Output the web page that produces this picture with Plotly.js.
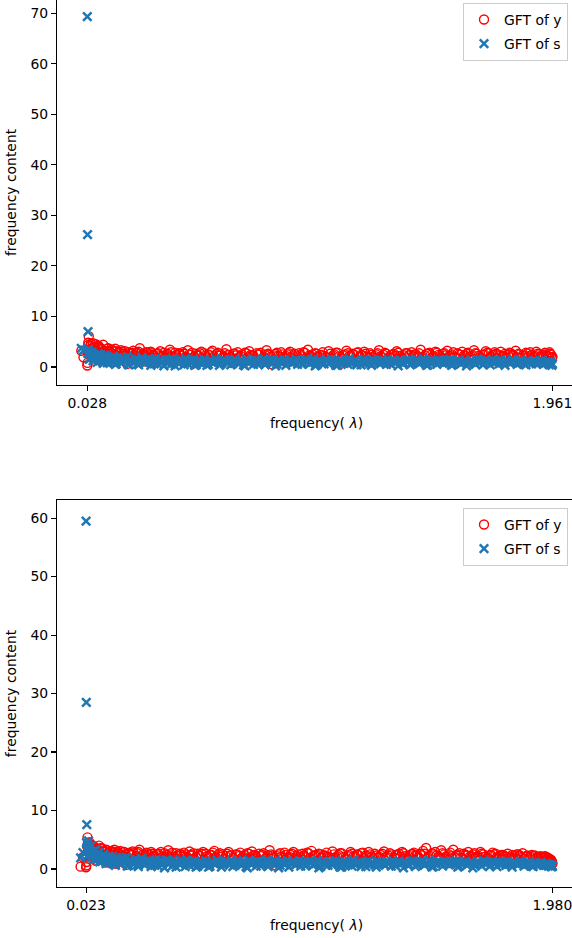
<!DOCTYPE html>
<html>
<head>
<meta charset="utf-8">
<script src="https://cdn.plot.ly/plotly-3.0.1.min.js"></script>
<style>
html,body{margin:0;padding:0;overflow:hidden;background:#fff;width:572px;height:938px;}
#chart{width:580px;height:938px;}
</style>
</head>
<body>
<div id="chart"></div>
<script>
// ================= top figure =================
const freqA1 = [
0.003,0.028,0.029,0.031,0.034,0.038,0.043,0.047,0.052,0.058,
0.063,0.069,0.074,0.081,0.087,0.094,0.101,0.107,0.115,0.122,
0.129,0.137,0.144,0.152,0.161,0.168,0.176,0.185,0.193,0.201,
0.211,0.219,0.228,0.236,0.246,0.255,0.264,0.273,0.283,0.292,
0.301,0.311,0.322,0.331,0.341,0.352,0.362,0.371,0.382,0.393,
0.403,0.414,0.425,0.436,0.446,0.457,0.469,0.480,0.491,0.502,
0.514,0.525,0.537,0.548,0.560,0.571,0.583,0.595,0.606,0.618,
0.630,0.641,0.653,0.666,0.677,0.689,0.701,0.713,0.725,0.737,
0.749,0.761,0.773,0.786,0.798,0.810,0.822,0.834,0.847,0.859,
0.871,0.883,0.896,0.908,0.920,0.932,0.945,0.957,0.969,0.981,
0.994,1.006,1.018,1.031,1.043,1.055,1.068,1.080,1.092,1.105,
1.117,1.129,1.142,1.154,1.166,1.179,1.191,1.203,1.216,1.228,
1.240,1.253,1.265,1.277,1.290,1.302,1.314,1.327,1.339,1.351,
1.364,1.376,1.388,1.401,1.413,1.425,1.438,1.450,1.462,1.475,
1.487,1.499,1.512,1.524,1.536,1.549,1.561,1.573,1.586,1.598,
1.610,1.623,1.635,1.647,1.660,1.672,1.684,1.697,1.709,1.721,
1.734,1.746,1.758,1.771,1.783,1.795,1.808,1.820,1.832,1.845,
1.857,1.869,1.882,1.894,1.906,1.918,1.930,1.941,1.951,1.961];
const freqA2 = [
0.012,0.030,0.032,0.036,0.040,0.045,0.050,0.055,0.060,0.066,
0.071,0.077,0.084,0.090,0.097,0.104,0.111,0.118,0.125,0.133,
0.140,0.148,0.156,0.164,0.172,0.180,0.189,0.197,0.206,0.215,
0.223,0.232,0.241,0.250,0.259,0.268,0.278,0.287,0.296,0.306,
0.316,0.326,0.336,0.346,0.357,0.366,0.376,0.387,0.398,0.408,
0.419,0.430,0.441,0.451,0.463,0.474,0.485,0.496,0.508,0.519,
0.531,0.542,0.554,0.565,0.577,0.589,0.600,0.612,0.624,0.635,
0.647,0.659,0.671,0.683,0.695,0.707,0.719,0.731,0.743,0.755,
0.767,0.779,0.792,0.804,0.816,0.828,0.840,0.853,0.865,0.877,
0.889,0.902,0.914,0.926,0.938,0.951,0.963,0.975,0.987,1.000,
1.012,1.024,1.037,1.049,1.061,1.074,1.086,1.098,1.111,1.123,
1.135,1.148,1.160,1.172,1.185,1.197,1.209,1.222,1.234,1.246,
1.259,1.271,1.283,1.296,1.308,1.320,1.333,1.345,1.357,1.370,
1.382,1.394,1.407,1.419,1.431,1.444,1.456,1.468,1.481,1.493,
1.505,1.518,1.530,1.542,1.555,1.567,1.579,1.592,1.604,1.616,
1.629,1.641,1.653,1.666,1.678,1.690,1.703,1.715,1.727,1.740,
1.752,1.764,1.777,1.789,1.801,1.814,1.826,1.838,1.851,1.863,
1.875,1.888,1.900,1.912,1.924,1.935,1.946,1.949,1.956,1.959];
const gftYA1 = [
3.2,0.3,0.8,4.3,6.1,3.5,4.6,2.1,4.7,3.9,
4.5,1.6,4.2,3.8,2.4,4.4,3.1,1.2,3.7,3.0,
3.4,2.2,3.6,1.0,2.9,3.3,2.0,3.1,0.6,2.7,
2.6,3.2,1.5,2.8,3.7,2.3,1.1,2.9,2.5,3.0,
2.4,0.9,2.7,3.1,2.2,1.7,2.6,3.4,2.1,2.8,
1.4,2.5,2.9,2.0,3.3,2.4,0.7,2.6,2.2,3.0,
2.7,1.9,2.3,3.2,1.2,2.8,2.5,2.1,3.5,2.4,
0.8,2.6,2.9,2.2,1.6,2.7,3.1,2.3,1.3,2.5,
2.8,2.0,3.3,2.4,0.5,2.6,2.2,2.9,1.8,2.5,
3.0,2.3,1.4,2.7,2.1,2.8,3.4,2.2,1.0,2.6,
2.4,2.9,2.0,3.1,1.7,2.5,2.8,0.6,2.3,3.2,
2.2,2.6,1.2,2.9,2.4,3.0,2.1,2.7,1.9,2.5,
3.3,2.0,2.8,0.9,2.4,2.6,3.1,2.2,1.5,2.7,
2.3,2.9,2.5,2.1,3.4,1.1,2.6,2.8,2.0,3.0,
2.4,1.6,2.7,3.2,2.2,2.9,0.7,2.5,3.0,2.3,
2.8,2.1,3.3,2.6,1.3,2.4,3.1,2.7,2.0,2.9,
2.5,3.0,2.2,1.8,2.8,2.4,3.2,2.6,0.9,2.3,
2.7,2.9,2.1,3.0,2.5,2.4,2.8,2.2,2.6,2.0];
const gftYA2 = [
1.9,3.0,4.8,2.6,4.1,3.4,2.8,4.0,3.3,2.5,
3.9,2.9,3.5,2.3,3.2,2.7,3.6,2.6,2.9,3.3,
2.5,3.1,2.8,2.2,3.0,2.6,2.4,2.9,2.1,2.8,
2.3,2.7,3.0,1.9,2.6,2.4,2.8,1.8,2.7,2.2,
2.6,2.3,2.0,2.8,2.5,2.1,2.9,1.7,2.4,2.7,
2.2,2.6,1.9,2.5,2.8,2.0,2.4,2.7,1.6,2.3,
2.5,2.9,2.1,2.6,2.2,1.8,2.7,2.4,2.0,2.6,
2.3,2.0,2.5,2.8,1.9,2.4,2.2,2.7,2.5,1.7,
2.4,2.6,2.1,2.3,2.8,2.0,2.5,2.2,2.7,1.9,
2.6,2.1,2.4,2.9,1.8,2.3,2.5,2.7,2.0,2.4,
2.2,1.9,2.6,2.3,2.8,2.1,1.7,2.5,2.7,2.2,
2.5,2.8,2.0,2.3,2.6,1.8,2.4,2.2,2.7,2.1,
2.4,2.6,1.9,2.5,2.2,2.8,2.0,2.3,2.7,2.4,
2.1,2.5,2.7,1.8,2.3,2.6,2.4,2.0,2.8,2.2,
2.6,2.3,2.1,2.5,1.9,2.7,2.4,2.2,2.6,2.0,
2.3,2.7,2.2,1.8,2.5,2.8,2.1,2.4,2.6,2.3,
2.0,2.6,2.4,2.7,2.2,1.9,2.5,2.3,2.8,2.1,
2.4,2.2,2.6,2.0,2.5,2.3,2.1,2.9,2.4,1.8];
const gftSA1 = [
3.7,69.3,26.2,7.0,2.6,3.0,1.8,2.9,1.2,2.4,
2.2,0.9,2.6,1.5,2.0,0.7,2.3,1.6,1.1,1.9,
1.4,2.1,0.5,1.8,1.2,0.8,1.7,1.3,2.0,0.4,
1.5,1.0,1.6,0.6,1.3,1.9,0.9,1.4,1.1,0.3,
1.2,1.7,0.5,1.4,1.0,1.5,0.7,1.3,1.6,0.2,
0.9,1.4,1.1,1.6,0.6,1.2,1.5,0.4,1.3,0.8,
1.5,0.3,1.2,0.9,1.6,1.0,0.6,1.4,1.1,1.3,
0.7,1.5,1.0,1.3,0.4,1.6,0.8,1.2,1.4,0.5,
1.1,1.6,0.9,1.3,1.5,0.2,1.2,0.7,1.4,1.0,
1.3,0.8,1.5,1.1,0.5,1.4,1.2,0.9,1.6,0.4,
1.2,1.0,1.4,0.6,1.5,1.3,0.3,1.1,0.8,1.4,
1.6,0.9,1.3,1.0,0.4,1.5,1.2,0.7,1.4,1.1,
0.8,1.3,1.1,1.5,0.5,1.4,1.0,1.2,0.6,1.3,
1.5,0.7,1.2,1.4,0.9,1.6,0.3,1.1,1.3,1.0,
1.4,1.2,0.8,1.3,1.5,0.5,1.1,1.4,0.9,1.2,
0.6,1.3,1.0,1.5,1.2,0.4,1.4,1.1,1.3,0.8,
1.2,1.4,0.7,1.3,1.0,1.5,0.9,1.1,1.4,0.5,
1.3,1.0,1.2,0.6,1.1,1.3,0.8,1.0,0.9,0.6];
const gftSA2 = [
3.3,2.7,3.5,1.5,2.8,2.1,2.5,1.4,2.2,1.7,
1.9,1.3,2.4,1.1,1.8,2.0,0.8,1.6,1.3,0.9,
1.7,0.6,1.5,1.2,0.9,1.6,1.1,0.5,1.4,1.2,
0.8,1.3,0.4,1.1,1.5,0.7,1.2,0.9,1.4,0.6,
1.0,1.3,0.8,0.2,1.1,1.4,0.5,0.9,1.2,0.7,
1.3,0.4,1.0,1.2,0.8,0.3,1.1,1.3,0.6,0.9,
0.5,1.1,0.8,1.2,0.3,1.0,1.3,0.7,0.4,1.2,
1.0,0.6,1.2,0.2,0.9,1.1,0.5,1.3,0.8,1.0,
0.4,1.2,0.7,1.0,0.6,1.3,0.9,0.3,1.1,0.7,
1.0,0.5,1.2,0.8,1.3,0.6,0.9,0.2,1.1,0.8,
0.6,1.3,0.9,1.1,0.3,0.8,1.2,1.0,0.5,0.7,
1.1,0.4,0.9,1.2,0.7,1.0,0.3,0.8,1.2,0.6,
1.0,0.5,0.8,1.2,0.9,0.2,1.1,0.7,1.0,0.4,
0.9,1.2,0.6,1.0,1.3,0.4,0.8,1.1,0.5,0.9,
0.7,1.0,1.2,0.3,0.9,1.1,0.6,1.0,0.2,0.8,
1.1,0.5,0.9,1.2,0.7,1.0,0.4,0.8,1.1,0.6,
0.9,0.3,1.0,0.7,1.2,0.5,0.8,1.0,0.4,0.9,
0.6,1.0,0.7,0.9,0.5,0.8,0.6,0.4,0.7,0.3];
const ticksA = [0.028, 1.961];
const tickTextA = ['0.028', '1.961'];
const yTicksA = [0,10,20,30,40,50,60,70];

// ================= bottom figure =================
const freqB1 = [
0.000,0.023,0.024,0.026,0.029,0.033,0.037,0.042,0.047,0.053,
0.058,0.064,0.070,0.077,0.083,0.090,0.097,0.104,0.111,0.119,
0.126,0.134,0.142,0.150,0.158,0.166,0.175,0.183,0.192,0.201,
0.210,0.219,0.228,0.238,0.247,0.257,0.266,0.276,0.286,0.296,
0.306,0.316,0.326,0.337,0.347,0.358,0.368,0.379,0.390,0.401,
0.412,0.423,0.434,0.445,0.457,0.468,0.479,0.491,0.502,0.514,
0.526,0.537,0.549,0.561,0.573,0.585,0.597,0.609,0.621,0.633,
0.645,0.657,0.670,0.682,0.694,0.706,0.719,0.731,0.743,0.756,
0.768,0.781,0.793,0.806,0.818,0.831,0.843,0.856,0.868,0.881,
0.893,0.906,0.918,0.931,0.944,0.956,0.969,0.981,0.994,1.007,
1.019,1.032,1.045,1.057,1.070,1.083,1.095,1.108,1.121,1.133,
1.146,1.159,1.171,1.184,1.197,1.209,1.222,1.235,1.247,1.260,
1.273,1.285,1.298,1.311,1.323,1.336,1.349,1.361,1.374,1.387,
1.399,1.412,1.425,1.437,1.450,1.463,1.475,1.488,1.501,1.513,
1.526,1.539,1.551,1.564,1.577,1.589,1.602,1.615,1.627,1.640,
1.653,1.665,1.678,1.691,1.703,1.716,1.729,1.741,1.754,1.767,
1.779,1.792,1.805,1.817,1.830,1.843,1.855,1.868,1.881,1.893,
1.906,1.918,1.931,1.943,1.953,1.960,1.966,1.971,1.976,1.980];
const freqB2 = [
0.010,0.025,0.027,0.031,0.035,0.039,0.044,0.050,0.055,0.061,
0.067,0.073,0.080,0.086,0.093,0.100,0.107,0.115,0.122,0.130,
0.138,0.146,0.154,0.162,0.170,0.179,0.187,0.196,0.205,0.214,
0.223,0.233,0.242,0.252,0.261,0.271,0.281,0.291,0.301,0.311,
0.321,0.331,0.342,0.352,0.363,0.373,0.384,0.395,0.406,0.417,
0.428,0.439,0.451,0.462,0.473,0.485,0.496,0.508,0.520,0.531,
0.543,0.555,0.567,0.579,0.591,0.603,0.615,0.627,0.639,0.651,
0.664,0.676,0.688,0.700,0.712,0.725,0.737,0.749,0.762,0.774,
0.787,0.799,0.812,0.824,0.837,0.849,0.862,0.874,0.887,0.899,
0.912,0.924,0.937,0.950,0.962,0.975,0.987,1.000,1.013,1.025,
1.038,1.051,1.063,1.076,1.089,1.101,1.114,1.127,1.139,1.152,
1.165,1.177,1.190,1.203,1.215,1.228,1.241,1.253,1.266,1.279,
1.291,1.304,1.317,1.329,1.342,1.355,1.367,1.380,1.393,1.405,
1.418,1.431,1.443,1.456,1.469,1.481,1.494,1.507,1.519,1.532,
1.545,1.557,1.570,1.583,1.595,1.608,1.621,1.633,1.646,1.659,
1.671,1.684,1.697,1.709,1.722,1.735,1.747,1.760,1.773,1.785,
1.798,1.811,1.823,1.836,1.849,1.861,1.874,1.887,1.899,1.912,
1.924,1.937,1.948,1.956,1.963,1.968,1.973,1.975,1.978,1.979];
const gftYB1 = [
0.4,0.3,0.6,2.4,5.4,3.1,4.6,2.2,4.1,3.6,
3.8,1.4,3.3,4.0,2.6,3.5,2.9,1.1,3.2,2.7,
3.0,2.4,3.3,0.9,2.8,3.1,2.2,2.9,0.7,2.6,
2.5,3.0,1.6,2.7,3.3,2.2,1.2,2.8,2.4,2.9,
2.3,1.0,2.6,2.9,2.1,1.8,3.2,2.5,2.0,2.7,
1.5,2.4,2.8,2.1,3.0,2.3,0.8,2.6,2.2,2.9,
2.6,2.0,2.4,3.1,1.3,2.7,2.5,2.2,2.9,2.3,
0.9,2.5,2.8,2.1,1.7,2.6,3.0,2.4,1.4,2.2,
2.7,2.0,3.2,2.3,0.6,2.5,2.1,2.8,1.9,2.4,
2.9,2.2,1.5,2.6,2.0,2.7,3.1,2.3,1.1,2.5,
2.3,2.8,2.0,3.0,1.8,2.4,2.7,0.7,2.2,2.9,
2.2,2.5,1.3,2.8,2.3,2.9,2.1,2.6,1.9,2.4,
3.0,2.1,2.7,1.0,2.4,2.6,2.9,2.2,1.6,2.5,
2.8,2.4,2.6,3.1,3.6,1.2,2.7,2.9,2.1,3.2,
2.5,1.7,2.8,3.3,2.3,2.7,0.8,2.4,2.9,2.2,
2.7,2.1,2.9,2.5,1.4,2.3,2.8,2.6,2.0,2.4,
2.2,2.6,2.0,1.8,2.5,2.3,2.7,2.1,0.9,2.4,
2.3,2.0,2.2,1.9,2.1,1.8,1.6,1.4,1.2,0.9];
const gftYB2 = [
2.0,1.2,3.9,4.4,3.0,4.2,3.5,2.7,3.8,3.1,
2.6,3.4,2.9,3.6,2.4,3.0,3.3,2.7,2.5,3.1,
2.8,2.2,3.0,2.6,2.3,2.9,2.5,2.1,2.8,2.4,
2.7,2.2,2.9,1.9,2.5,2.3,2.7,1.8,2.6,2.1,
2.5,2.2,2.0,2.7,2.4,2.0,2.8,1.7,2.3,2.6,
2.1,2.5,1.9,2.4,2.7,2.0,2.3,2.6,1.6,2.2,
2.4,2.8,2.0,2.5,2.1,1.8,2.6,2.3,1.9,2.5,
2.2,1.9,2.4,2.7,1.8,2.3,2.1,2.6,2.4,1.7,
2.3,2.5,2.0,2.2,2.7,1.9,2.4,2.1,2.6,1.8,
2.5,2.0,2.3,2.8,1.8,2.2,2.4,2.6,1.9,2.3,
2.1,1.9,2.5,2.2,2.7,2.0,1.7,2.4,2.6,2.1,
2.4,2.7,1.9,2.2,2.5,1.8,2.3,2.1,2.6,2.0,
2.3,2.5,1.9,2.4,2.1,2.7,2.0,2.2,2.6,2.3,
2.0,2.4,2.6,1.8,2.2,2.5,2.3,2.0,2.7,2.1,
2.5,2.2,2.0,2.4,1.9,2.6,2.3,2.1,2.5,2.0,
2.2,2.6,2.1,1.8,2.4,2.5,2.0,2.3,2.4,2.1,
1.9,2.4,2.2,2.5,2.0,1.8,2.3,2.1,2.2,1.9,
2.1,2.0,2.2,1.8,1.9,1.7,1.6,1.5,1.3,1.0];
const gftSB1 = [
1.9,59.5,28.5,7.6,4.2,4.8,2.6,3.9,2.1,3.0,
2.4,3.3,1.6,2.8,2.0,1.3,2.5,1.8,1.1,2.2,
1.6,2.1,0.8,1.9,1.4,1.0,1.8,1.5,2.0,0.6,
1.5,1.1,1.7,0.7,1.4,1.8,0.9,1.3,1.2,0.4,
1.3,1.6,0.5,1.4,1.1,1.5,0.8,1.2,1.6,0.3,
1.0,1.4,1.2,1.5,0.6,1.3,1.4,0.5,1.2,0.9,
1.4,0.3,1.2,0.9,1.5,1.0,0.7,1.3,1.1,1.4,
0.7,1.4,1.0,1.3,0.4,1.5,0.8,1.2,1.3,0.5,
1.1,1.5,0.9,1.2,1.4,0.2,1.3,0.7,1.4,1.0,
1.3,0.8,1.4,1.1,0.5,1.3,1.2,0.9,1.5,0.4,
1.2,1.0,1.3,0.6,1.4,1.2,0.3,1.1,0.8,1.3,
1.5,0.9,1.2,1.0,0.4,1.4,1.1,0.7,1.3,1.1,
0.8,1.3,1.1,1.4,0.5,1.3,1.0,1.2,0.6,1.3,
1.4,0.7,1.2,1.3,0.9,1.5,0.3,1.1,1.3,1.0,
1.3,1.2,0.8,1.3,1.4,0.5,1.1,1.3,0.9,1.2,
0.6,1.3,1.0,1.4,1.2,0.4,1.3,1.1,1.2,0.8,
1.1,1.3,0.7,1.2,1.0,1.3,0.9,1.0,1.2,0.5,
1.0,0.9,1.1,0.6,0.9,0.8,0.7,0.6,0.5,0.5];
const gftSB2 = [
2.8,4.5,3.6,2.3,3.2,2.5,1.9,2.9,1.6,2.2,
1.8,2.6,1.2,2.1,1.5,1.9,0.9,1.7,1.3,1.0,
1.6,0.6,1.5,1.2,0.9,1.5,1.1,0.5,1.4,1.2,
0.8,1.3,0.4,1.1,1.4,0.7,1.2,0.9,1.3,0.6,
1.0,1.2,0.8,0.2,1.1,1.3,0.5,0.9,1.2,0.7,
1.2,0.4,1.0,1.1,0.8,0.3,1.1,1.2,0.6,0.9,
0.5,1.1,0.8,1.2,0.3,1.0,1.2,0.7,0.4,1.1,
1.0,0.6,1.1,0.2,0.9,1.1,0.5,1.2,0.8,1.0,
0.4,1.1,0.7,1.0,0.6,1.2,0.9,0.3,1.1,0.7,
1.0,0.5,1.1,0.8,1.2,0.6,0.9,0.2,1.1,0.8,
0.6,1.2,0.9,1.1,0.3,0.8,1.2,1.0,0.5,0.7,
1.1,0.4,0.9,1.2,0.7,1.0,0.3,0.8,1.1,0.6,
1.0,0.5,0.8,1.1,0.9,0.2,1.1,0.7,1.0,0.4,
0.9,1.2,0.6,1.0,1.2,0.4,0.8,1.1,0.5,0.9,
0.7,1.0,1.1,0.3,0.9,1.1,0.6,1.0,0.2,0.8,
1.0,0.5,0.9,1.1,0.7,1.0,0.4,0.8,1.0,0.6,
0.9,0.3,1.0,0.7,1.1,0.5,0.8,0.9,0.4,0.8,
0.6,0.9,0.7,0.8,0.5,0.7,0.6,0.4,0.6,0.4];
const ticksB = [0.023, 1.980];
const tickTextB = ['0.023', '1.980'];
const yTicksB = [0,10,20,30,40,50,60];

const seriesNames = ['GFT of y', 'GFT of s'];
const xTitle = 'frequency( <i>λ</i>)';
const yTitle = 'frequency content';

// ================= styles =================
const FONT = 'DejaVu Sans, sans-serif';
const FS = 13.9;
const red = '#ff0000';
const blue = '#1f77b4';

function circ(x, y, xa, ya, leg, name){
  return {type:'scatter', mode:'markers', x:x, y:y, xaxis:xa, yaxis:ya, legend:leg, name:name,
    legendgroup:'g1',
    marker:{symbol:'circle-open', size:9, color:red, line:{color:red, width:1.4}}};
}
function cross(x, y, xa, ya, leg, name){
  return {type:'scatter', mode:'markers', x:x, y:y, xaxis:xa, yaxis:ya, legend:leg, name:name,
    legendgroup:'g2',
    marker:{symbol:'x-thin', size:8.5, color:blue, line:{color:blue, width:2.5}}};
}

const data = [
  circ(freqA1.concat(freqA2), gftYA1.concat(gftYA2), 'x', 'y', 'legend', seriesNames[0]),
  cross(freqA1.concat(freqA2), gftSA1.concat(gftSA2), 'x', 'y', 'legend', seriesNames[1]),
  circ(freqB1.concat(freqB2), gftYB1.concat(gftYB2), 'x2', 'y2', 'legend2', seriesNames[0]),
  cross(freqB1.concat(freqB2), gftSB1.concat(gftSB2), 'x2', 'y2', 'legend2', seriesNames[1])
];

function xaxis(ticks, texts, range, anchor, mirror){
  return {range:range, anchor:anchor, tickmode:'array', tickvals:ticks, ticktext:texts,
    showgrid:false, zeroline:false, showline:true, linecolor:'#000', linewidth:1.1, mirror:mirror,
    ticks:'outside', ticklen:5, tickwidth:1.1, tickcolor:'#000',
    tickfont:{family:FONT, size:FS, color:'#000'},
    title:{text:xTitle, font:{family:FONT, size:FS, color:'#000'}, standoff:8}};
}
function yaxis(ticks, range, domain, anchor){
  return {range:range, domain:domain, anchor:anchor, tickmode:'array', tickvals:ticks,
    showgrid:false, zeroline:false, showline:true, linecolor:'#000', linewidth:1.1,
    ticks:'outside', ticklen:5, tickwidth:1.1, tickcolor:'#000',
    tickfont:{family:FONT, size:FS, color:'#000'},
    title:{text:yTitle, font:{family:FONT, size:FS, color:'#000'}, standoff:10}};
}
function legend(ytop){
  return {x:0.9846, xanchor:'right', y:ytop, yanchor:'top',
    bgcolor:'rgba(255,255,255,0.8)', bordercolor:'#cccccc', borderwidth:1,
    font:{family:FONT, size:FS, color:'#000'}, tracegroupgap:3};
}

const layout = {
  width:580, height:938,
  margin:{l:57, r:4, t:0, b:51},
  paper_bgcolor:'#fff', plot_bgcolor:'#fff',
  showlegend:true,
  font:{family:FONT, size:FS, color:'#000'},
  xaxis: xaxis(ticksA, tickTextA, [-0.098, 2.059], 'y', false),
  yaxis: yaxis(yTicksA, [-3.56, 72.6], [0.566, 1], 'x'),
  xaxis2: xaxis(ticksB, tickTextB, [-0.099, 2.079], 'y2', true),
  yaxis2: yaxis(yTicksB, [-3.08, 63.1], [0, 0.4363], 'x2'),
  legend: legend(0.9966),
  legend2: legend(0.4273)
};
layout.yaxis2.mirror = true;

Plotly.newPlot('chart', data, layout, {staticPlot:true, displayModeBar:false});
</script>
</body>
</html>
